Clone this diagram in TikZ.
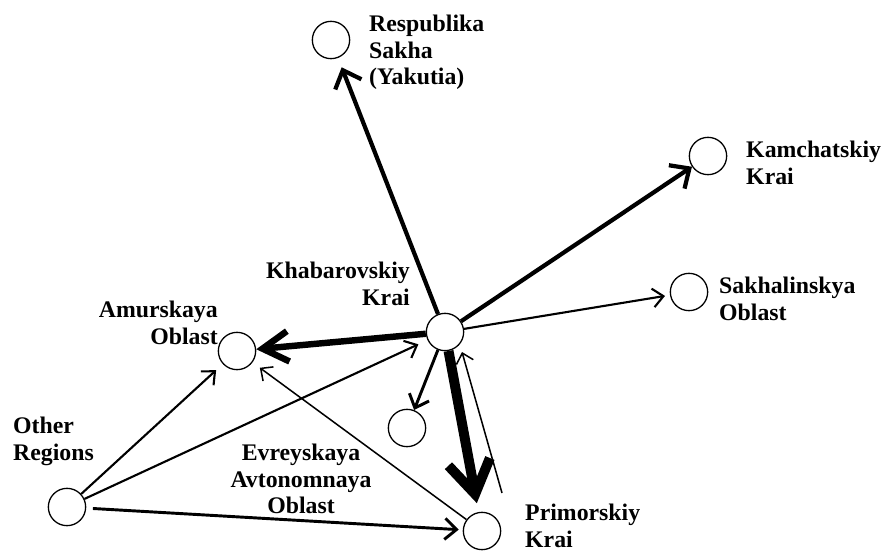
\documentclass[tikz,border=0pt]{standalone}
\usepackage{fontspec}
\setmainfont{Liberation Serif}
\usetikzlibrary{arrows.meta}

\begin{document}
\begin{tikzpicture}[x=0.3mm,y=-0.3mm]
\tikzstyle{every node}+=[inner sep=0pt]
\tikzstyle{regioncircle}=[draw,circle,line width=1.1pt,minimum size=11.2mm]
\tikzstyle{regionlabel}=[font=\bfseries\fontsize{20.3}{22.5}\selectfont]
\tikzstyle{flowA}=[line width=1.3pt,-{Straight Barb[length=8pt,width=15pt]}]
\tikzstyle{flowB}=[line width=1.8pt,-{Straight Barb[length=9pt,width=16pt]}]
\tikzstyle{flowC}=[line width=2.5pt,-{Straight Barb[length=10pt,width=18pt]}]
\tikzstyle{flowD}=[line width=3.6pt,-{Straight Barb[length=13pt,width=24pt]}]
\tikzstyle{flowE}=[line width=5.5pt,-{Straight Barb[length=22pt,width=26pt]}]
\tikzstyle{flowF}=[line width=8.5pt,-{Straight Barb[length=28pt,width=36pt]}]
\useasboundingbox (0,0) rectangle (886,554);
% regions
\node[regioncircle] (khab) at (445,332) {};
\node[regioncircle] (sakha) at (331,40) {};
\node[regioncircle] (kamch) at (708,156) {};
\node[regioncircle] (sakhalin) at (689,292) {};
\node[regioncircle] (amur) at (237,351) {};
\node[regioncircle] (evrey) at (407,428) {};
\node[regioncircle] (other) at (67,507) {};
\node[regioncircle] (prim) at (482,531) {};
% names
\node[regionlabel,align=left,anchor=north west] (sakhaname) at (369,15) {Respublika\\Sakha\\(Yakutia)};
\node[regionlabel,align=left,anchor=north west] (kamchname) at (746,141) {Kamchatskiy\\Krai};
\node[regionlabel,align=left,anchor=north west] (sakhalinname) at (719,277) {Sakhalinskya\\Oblast};
\node[regionlabel,align=right,anchor=north east] (khabname) at (410,262) {Khabarovskiy\\Krai};
\node[regionlabel,align=right,anchor=north east] (amurname) at (218,301) {Amurskaya\\Oblast};
\node[regionlabel,align=left,anchor=north west] (othername) at (13,417) {Other\\Regions};
\node[regionlabel,align=center,anchor=north] (evreyname) at (301,444) {Evreyskaya\\Avtonomnaya\\Oblast};
\node[regionlabel,align=left,anchor=north west] (primname) at (525,504) {Primorskiy\\Krai};
% flows
\coordinate (primout) at (502,493);
\coordinate (khabin) at (462,352);
\draw[flowD,shorten >=3mm] (khab) -- (sakha);
\draw[flowD] (khab) -- (kamch);
\draw[flowB,shorten >=1.5mm] (khab) -- (sakhalin);
\draw[flowE] (khab) -- (amur);
\draw[flowC] (khab) -- (evrey);
\draw[flowF,shorten >=2.7mm] (khab) -- (prim);
\draw[flowA] (primout) -- (khabin);
\draw[flowA,shorten >=2.7mm] (prim) -- (amur);
\draw[flowB,shorten >=2.7mm] (other) -- (amur);
\draw[flowB,shorten >=3mm] (other) -- (khab);
\draw[flowC,shorten <=2mm,shorten >=1.2mm] (other) -- (prim);
\end{tikzpicture}
\end{document}
